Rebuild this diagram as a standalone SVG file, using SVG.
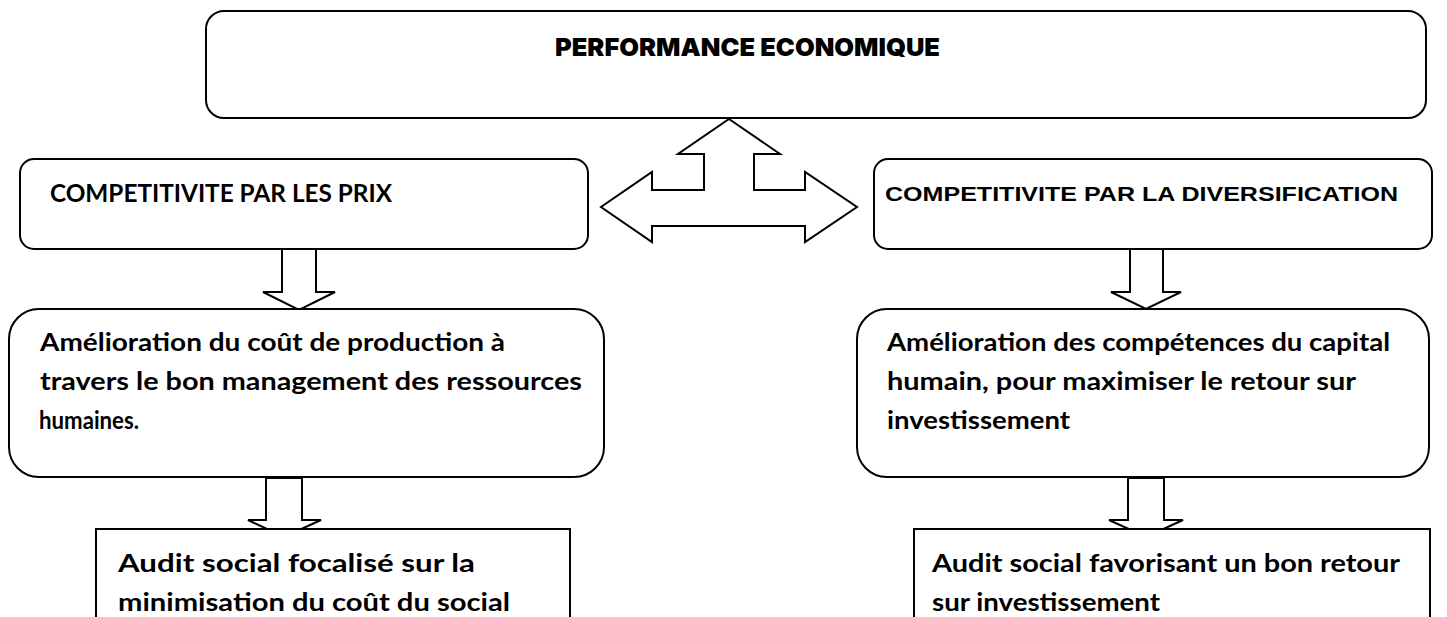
<svg xmlns="http://www.w3.org/2000/svg" width="1447" height="617" viewBox="0 0 1447 617">
  <style>
    .box { fill: #ffffff; stroke: #000000; stroke-width: 2; }
    .arrow { fill: #ffffff; stroke: #000000; stroke-width: 2; stroke-linejoin: miter; }
    .title { font-family: Inter, "Noto Sans", sans-serif; font-weight: 900; font-size: 25px; fill: #000; }
    .cal { font-family: Lato, "Open Sans", sans-serif; font-weight: 700; font-size: 25.5px; fill: #000; }
    .ari { font-family: "Liberation Sans", Arial, sans-serif; font-weight: 700; font-size: 20.5px; fill: #000; }
  </style>

  <rect width="1447" height="617" fill="#ffffff"/>

  <!-- connectors -->
  <g id="connectors">
    <!-- three-way arrow: up to the top box, left and right to the two competitiveness boxes -->
    <polygon class="arrow" points="729,119 780,154 754,154 754,190 805,190 805,172 857,207 805,242 805,226 652,226 652,242 601,207 652,172 652,190 704,190 704,154 678,154"/>
    <!-- block arrows pointing down -->
    <polygon class="arrow" points="282,249 316,249 316,292 335,292 299,310 263,292 282,292"/>
    <polygon class="arrow" points="266,478 302,478 302,520 321,520 284,537 248,520 266,520"/>
    <polygon class="arrow" points="1130,249 1163,249 1163,292 1181,292 1146,309 1111,292 1130,292"/>
    <polygon class="arrow" points="1128,478 1164,478 1164,520 1183,520 1146,537 1109,520 1128,520"/>
  </g>

  <g id="performance">
    <rect class="box" x="206" y="11" width="1220" height="107" rx="18" ry="18"/>
    <text class="title" x="555" y="56" textLength="385" lengthAdjust="spacingAndGlyphs">PERFORMANCE ECONOMIQUE</text>
  </g>

  <g id="prix">
    <rect class="box" x="20" y="159" width="568" height="90" rx="14" ry="14"/>
    <text class="cal" x="50" y="202" textLength="342" lengthAdjust="spacingAndGlyphs">COMPETITIVITE PAR LES PRIX</text>
  </g>

  <g id="diversification">
    <rect class="box" x="874" y="159" width="558" height="90" rx="14" ry="14"/>
    <text class="ari" x="885" y="201" textLength="513" lengthAdjust="spacingAndGlyphs">COMPETITIVITE PAR LA DIVERSIFICATION</text>
  </g>

  <g id="cout-production">
    <rect class="box" x="9" y="309" width="595" height="168" rx="30" ry="30"/>
    <text class="cal" x="40" y="351" textLength="465" lengthAdjust="spacingAndGlyphs">Amélioration du coût de production à</text>
    <text class="cal" x="40" y="390" textLength="542" lengthAdjust="spacingAndGlyphs">travers le bon management des ressources</text>
    <text class="cal" x="39" y="429" textLength="100" lengthAdjust="spacingAndGlyphs">humaines.</text>
  </g>

  <g id="capital-humain">
    <rect class="box" x="857" y="309" width="572" height="168" rx="30" ry="30"/>
    <text class="cal" x="887" y="351" textLength="503" lengthAdjust="spacingAndGlyphs">Amélioration des compétences du capital</text>
    <text class="cal" x="887" y="390" textLength="469" lengthAdjust="spacingAndGlyphs">humain, pour maximiser le retour sur</text>
    <text class="cal" x="887" y="429" textLength="183" lengthAdjust="spacingAndGlyphs">investissement</text>
  </g>

  <g id="audit-cout">
    <rect class="box" x="96" y="529" width="474" height="100"/>
    <text class="cal" x="118" y="572" textLength="357" lengthAdjust="spacingAndGlyphs">Audit social focalisé sur la</text>
    <text class="cal" x="118" y="611" textLength="392" lengthAdjust="spacingAndGlyphs">minimisation du coût du social</text>
  </g>

  <g id="audit-retour">
    <rect class="box" x="914" y="529" width="516" height="100"/>
    <text class="cal" x="932" y="572" textLength="468" lengthAdjust="spacingAndGlyphs">Audit social favorisant un bon retour</text>
    <text class="cal" x="932" y="611" textLength="228" lengthAdjust="spacingAndGlyphs">sur investissement</text>
  </g>
</svg>
